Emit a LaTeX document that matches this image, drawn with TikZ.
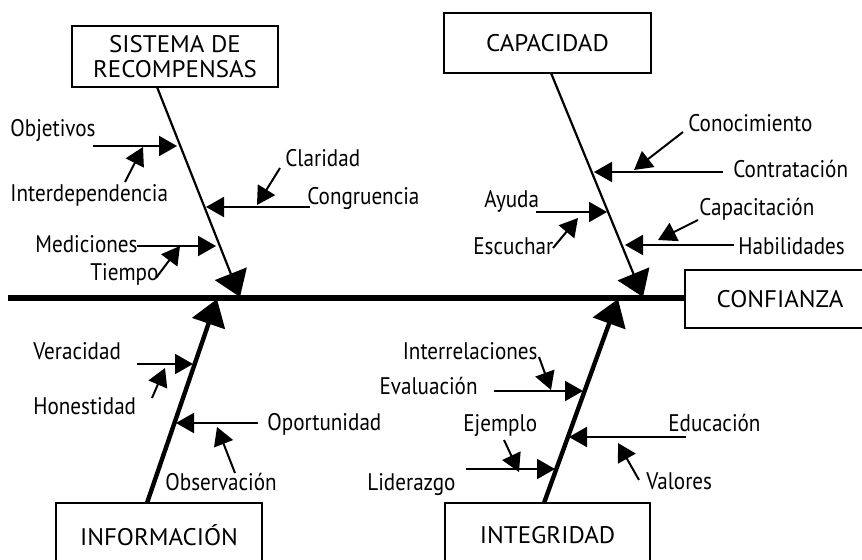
\documentclass[tikz,border=0pt]{standalone}
\usepackage{fontspec}
\setmainfont[FakeStretch=0.88]{PT Sans}
\newfontfamily\cajafont[FakeStretch=1.04]{PT Sans}
\usepackage{tikz}
\usetikzlibrary{arrows.meta, positioning, calc}

\begin{document}
\begin{tikzpicture}[x=0.5pt, y=-0.5pt,
    lbl/.style={font=\fontsize{12}{12.5}\selectfont, inner sep=0pt},
    caja/.style={draw, line width=1.2pt, inner sep=0pt, align=center,
                 font=\cajafont\fontsize{12}{12.5}\selectfont},
    espina/.style={line width=2.6pt},
    hueso/.style={line width=1.1pt, -{Triangle[length=12.5pt,width=17pt]}},
    huesog/.style={line width=2.2pt, -{Triangle[length=13pt,width=17pt]}},
    causa/.style={line width=1pt, -{Triangle[length=9pt,width=10pt]}}]

    \useasboundingbox (0,0) rectangle (862,560);

    % 1. Cajas de las categorias
    \node[caja, minimum width=103pt, minimum height=30.5pt] (sistema) at (175,56.5) {SISTEMA DE\\RECOMPENSAS};
    \node[caja, minimum width=103.5pt, minimum height=30pt] (capacidad) at (547.5,43) {CAPACIDAD};
    \node[caja, minimum width=103pt, minimum height=32pt] (informacion) at (159,535) {INFORMACIÓN};
    \node[caja, minimum width=102.5pt, minimum height=32pt] (integridad) at (547.5,535) {INTEGRIDAD};
    \node[caja, minimum width=95pt, minimum height=29pt] (confianza) at (780,299) {CONFIANZA};

    % 2. Espina principal
    \coordinate (cola) at (8,298);
    \draw[espina] (cola) -- (cola -| confianza.west);

    % 3. Huesos grandes
    \coordinate (s0) at (157,87);   \coordinate (s1) at (240,297);
    \coordinate (c0) at (551,73);   \coordinate (c1) at (643,297);
    \coordinate (i0) at (147,503);  \coordinate (i1) at (217,299);
    \coordinate (g0) at (544,503);  \coordinate (g1) at (618,299);
    \draw[hueso] (s0) -- (s1);
    \draw[hueso] (c0) -- (c1);
    \draw[huesog] (i0) -- (i1);
    \draw[huesog] (g0) -- (g1);

    % 4. Sistema de recompensas
    \node[lbl, anchor=base west] (objetivos) at (10,137) {Objetivos};
    \node[lbl, anchor=base west] (interdep) at (10,202) {Interdependencia};
    \node[lbl, anchor=base west] (claridad) at (285,167) {Claridad};
    \node[lbl, anchor=base west] (congruencia) at (307,205) {Congruencia};
    \node[lbl, anchor=base west] (mediciones) at (35,253) {Mediciones};
    \node[lbl, anchor=base west] (tiempo) at (90,281) {Tiempo};
    \coordinate (obj0) at (93,146);  \coordinate (obj1) at (177,146);
    \coordinate (int0) at (125,182); \coordinate (int1) at (143,147);
    \coordinate (cla0) at (280,168); \coordinate (cla1) at (257,205);
    \coordinate (con0) at (310,207); \coordinate (con1) at (206,207);
    \coordinate (med0) at (137,246); \coordinate (med1) at (216,246);
    \coordinate (tie0) at (156,278); \coordinate (tie1) at (180,246);
    \draw[causa] (obj0) -- (obj1);
    \draw[causa] (int0) -- (int1);
    \draw[causa] (cla0) -- (cla1);
    \draw[causa] (con0) -- (con1);
    \draw[causa] (med0) -- (med1);
    \draw[causa] (tie0) -- (tie1);

    % 5. Capacidad
    \node[lbl, anchor=base west] (conocimiento) at (688,132) {Conocimiento};
    \node[lbl, anchor=base west] (contratacion) at (733,178) {Contratación};
    \node[lbl, anchor=base west] (ayuda) at (484,208) {Ayuda};
    \node[lbl, anchor=base west] (escuchar) at (473,255) {Escuchar};
    \node[lbl, anchor=base west] (capacitacion) at (699,216) {Capacitación};
    \node[lbl, anchor=base west] (habilidades) at (738,255) {Habilidades};
    \coordinate (cono0) at (683,132); \coordinate (cono1) at (634,170);
    \coordinate (cont0) at (723,172); \coordinate (cont1) at (594,172);
    \coordinate (ayu0) at (536,212);  \coordinate (ayu1) at (607,212);
    \coordinate (esc0) at (553,248);  \coordinate (esc1) at (578,218);
    \coordinate (capa0) at (698,220); \coordinate (capa1) at (658,240);
    \coordinate (hab0) at (734,245);  \coordinate (hab1) at (625,245);
    \draw[causa] (cono0) -- (cono1);
    \draw[causa] (cont0) -- (cont1);
    \draw[causa] (ayu0) -- (ayu1);
    \draw[causa] (esc0) -- (esc1);
    \draw[causa] (capa0) -- (capa1);
    \draw[causa] (hab0) -- (hab1);

    % 6. Informacion
    \node[lbl, anchor=base west] (veracidad) at (33,360) {Veracidad};
    \node[lbl, anchor=base west] (honestidad) at (33,415) {Honestidad};
    \node[lbl, anchor=base west] (oportunidad) at (267,431) {Oportunidad};
    \node[lbl, anchor=base west] (observacion) at (165,491) {Observación};
    \coordinate (ver0) at (137,364); \coordinate (ver1) at (193,364);
    \coordinate (hon0) at (152,398); \coordinate (hon1) at (165,368);
    \coordinate (opo0) at (258,423); \coordinate (opo1) at (176,423);
    \coordinate (obs0) at (235,473); \coordinate (obs1) at (217,427);
    \draw[causa] (ver0) -- (ver1);
    \draw[causa] (hon0) -- (hon1);
    \draw[causa] (opo0) -- (opo1);
    \draw[causa] (obs0) -- (obs1);

    % 7. Integridad
    \node[lbl, anchor=base east] (interrel) at (538,360) {Interrelaciones};
    \node[lbl, anchor=base east] (evaluacion) at (478,395) {Evaluación};
    \node[lbl, anchor=base west] (ejemplo) at (463,432) {Ejemplo};
    \node[lbl, anchor=base west] (liderazgo) at (367,491) {Liderazgo};
    \node[lbl, anchor=base west] (educacion) at (668,432) {Educación};
    \node[lbl, anchor=base west] (valores) at (646,490) {Valores};
    \coordinate (intr0) at (539,357); \coordinate (intr1) at (551,390);
    \coordinate (eva0) at (494,391);  \coordinate (eva1) at (583,391);
    \coordinate (eje0) at (504,440);  \coordinate (eje1) at (519,472);
    \coordinate (lid0) at (466,469);  \coordinate (lid1) at (555,469);
    \coordinate (edu0) at (686,437);  \coordinate (edu1) at (569,437);
    \coordinate (val0) at (639,480);  \coordinate (val1) at (618,443);
    \draw[causa] (intr0) -- (intr1);
    \draw[causa] (eva0) -- (eva1);
    \draw[causa] (eje0) -- (eje1);
    \draw[causa] (lid0) -- (lid1);
    \draw[causa] (edu0) -- (edu1);
    \draw[causa] (val0) -- (val1);

\end{tikzpicture}
\end{document}
